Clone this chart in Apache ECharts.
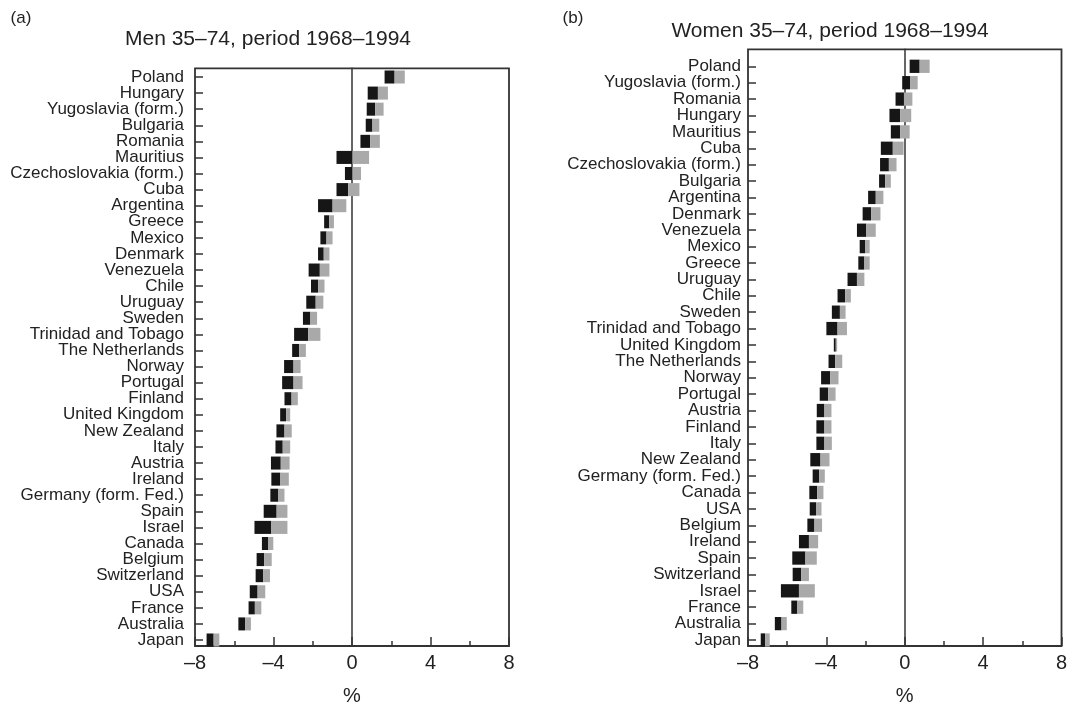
<!DOCTYPE html>
<html>
<head>
<meta charset="utf-8">
<script src="https://cdn.jsdelivr.net/npm/echarts@6/dist/echarts.min.js"></script>
<style>
html,body{margin:0;padding:0;background:#fff;}
#chart{width:1075px;height:711px;}
</style>
</head>
<body>
<div id="chart"></div>
<script>
// ---- Data (annual % change, 95% interval: lower, estimate, upper) ----
const menCountries = ['Poland','Hungary','Yugoslavia (form.)','Bulgaria','Romania','Mauritius','Czechoslovakia (form.)','Cuba','Argentina','Greece','Mexico','Denmark','Venezuela','Chile','Uruguay','Sweden','Trinidad and Tobago','The Netherlands','Norway','Portugal','Finland','United Kingdom','New Zealand','Italy','Austria','Ireland','Germany (form. Fed.)','Spain','Israel','Canada','Belgium','Switzerland','USA','France','Australia','Japan'];
const menLower    = [1.66,0.80,0.75,0.70,0.43,-0.79,-0.36,-0.79,-1.73,-1.42,-1.61,-1.73,-2.21,-2.09,-2.33,-2.50,-2.95,-3.05,-3.46,-3.56,-3.44,-3.66,-3.85,-3.90,-4.13,-4.11,-4.16,-4.50,-4.97,-4.59,-4.86,-4.91,-5.21,-5.27,-5.79,-7.41];
const menEstimate = [2.17,1.32,1.18,1.04,0.92,0.02,0.02,-0.19,-0.99,-1.16,-1.30,-1.44,-1.64,-1.73,-1.85,-2.12,-2.23,-2.69,-2.98,-2.98,-3.08,-3.36,-3.44,-3.53,-3.63,-3.65,-3.77,-3.84,-4.11,-4.28,-4.47,-4.52,-4.81,-4.95,-5.45,-7.05];
const menUpper    = [2.69,1.83,1.61,1.39,1.42,0.87,0.46,0.38,-0.29,-0.92,-0.99,-1.15,-1.15,-1.40,-1.46,-1.78,-1.61,-2.35,-2.62,-2.52,-2.76,-3.15,-3.07,-3.15,-3.18,-3.22,-3.44,-3.29,-3.29,-4.01,-4.09,-4.18,-4.42,-4.62,-5.15,-6.76];

const womenCountries = ['Poland','Yugoslavia (form.)','Romania','Hungary','Mauritius','Cuba','Czechoslovakia (form.)','Bulgaria','Argentina','Denmark','Venezuela','Mexico','Greece','Uruguay','Chile','Sweden','Trinidad and Tobago','United Kingdom','The Netherlands','Norway','Portugal','Austria','Finland','Italy','New Zealand','Germany (form. Fed.)','Canada','USA','Belgium','Ireland','Spain','Switzerland','Israel','France','Australia','Japan'];
const womenLower    = [0.25,-0.13,-0.47,-0.78,-0.71,-1.22,-1.26,-1.31,-1.87,-2.15,-2.44,-2.30,-2.37,-2.92,-3.43,-3.72,-4.00,-3.62,-3.89,-4.27,-4.34,-4.49,-4.51,-4.51,-4.82,-4.70,-4.87,-4.85,-4.97,-5.40,-5.74,-5.72,-6.32,-5.79,-6.63,-7.35];
const womenEstimate = [0.76,0.27,-0.04,-0.23,-0.23,-0.61,-0.81,-1.00,-1.48,-1.72,-1.96,-2.01,-2.06,-2.44,-3.04,-3.31,-3.43,-3.52,-3.55,-3.81,-3.91,-4.10,-4.10,-4.10,-4.30,-4.37,-4.47,-4.53,-4.61,-4.89,-5.07,-5.28,-5.40,-5.48,-6.29,-7.13];
const womenUpper    = [1.27,0.66,0.39,0.33,0.25,-0.06,-0.42,-0.71,-1.09,-1.24,-1.48,-1.79,-1.79,-2.06,-2.75,-3.02,-2.95,-3.45,-3.19,-3.38,-3.53,-3.74,-3.74,-3.72,-3.84,-4.08,-4.15,-4.25,-4.22,-4.42,-4.49,-4.89,-4.59,-5.18,-6.02,-6.89];

const xTicks = [-8,-4,0,4,8];
const panelTitles = ['Men 35\u201374, period 1968\u20131994','Women 35\u201374, period 1968\u20131994'];
const panelTags = ['(a)','(b)'];
const axisName = '%';

// ---- Styling / layout ----
const FONT = '"Liberation Sans", Arial, Helvetica, sans-serif';
const TXT = '#222';
const LINE = '#333';
const BLACK = '#161616';
const GREY = '#a9a9a9';

// frame box and first/last row centre for each panel
const panels = [
  {left:195, width:314, frameTop:68.3, frameBottom:656.7, firstRow:77.0, lastRow:640.0, labelMargin:11},
  {left:748, width:313.5, frameTop:49.3, frameBottom:656.7, firstRow:66.3, lastRow:640.0, labelMargin:7}
];

function rows(lower, est, upper){
  return lower.map((l,i)=>[i, l, est[i], upper[i]]);
}

function renderItem(params, api){
  const idx = api.value(0);
  const pLo = api.coord([api.value(1), idx]);
  const pMid = api.coord([api.value(2), idx]);
  const pHi = api.coord([api.value(3), idx]);
  const h = api.size([0,1])[1] * 0.81;
  return {
    type: 'group',
    children: [
      {type:'rect', shape:{x:pLo[0], y:pLo[1]-h/2, width:pMid[0]-pLo[0], height:h}, style:{fill:BLACK}},
      {type:'rect', shape:{x:pMid[0], y:pMid[1]-h/2, width:pHi[0]-pMid[0], height:h}, style:{fill:GREY}}
    ]
  };
}

const grids = [], xAxes = [], yAxes = [], seriesList = [];
const names = [menCountries, womenCountries];
const dataSets = [rows(menLower, menEstimate, menUpper), rows(womenLower, womenEstimate, womenUpper)];

panels.forEach((p, k) => {
  // frame grid (x axis ticks/labels, border, zero line)
  const fg = grids.length;
  grids.push({left:p.left, top:p.frameTop, width:p.width, height:p.frameBottom-p.frameTop,
    show:true, borderColor:LINE, borderWidth:1.8, backgroundColor:'transparent'});
  xAxes.push({
    type:'value', gridIndex: fg, min:-8, max:8, interval:4, position:'bottom',
    axisLine:{show:false, onZero:false},
    axisTick:{show:true, inside:true, length:9, lineStyle:{color:LINE, width:1.5}},
    minorTick:{show:true, splitNumber:2, length:5, lineStyle:{color:LINE, width:1.5}},
    splitLine:{show:false},
    axisLabel:{color:TXT, fontFamily:FONT, fontSize:20, margin:7, showMinLabel:true, showMaxLabel:true,
      formatter: v => (v < 0 ? '\u2013' + Math.abs(v) : String(v))},
    name: axisName, nameLocation:'middle', nameGap:40,
    nameTextStyle:{color:TXT, fontFamily:FONT, fontSize:20}
  });
  yAxes.push({
    type:'value', gridIndex: fg, min:0, max:1,
    axisLine:{show:true, onZero:true, lineStyle:{color:LINE, width:1.5}},
    axisTick:{show:false}, axisLabel:{show:false}, splitLine:{show:false}
  });
  // data grid (category rows + bars)
  const dg = grids.length;
  grids.push({left:p.left, top:p.firstRow, width:p.width, height:p.lastRow-p.firstRow, show:false});
  xAxes.push({type:'value', gridIndex: dg, min:-8, max:8, show:false, axisLine:{onZero:false}});
  yAxes.push({
    type:'category', gridIndex: dg, data: names[k], inverse:true, boundaryGap:false, position:'left',
    axisLine:{show:false, onZero:false},
    axisTick:{show:true, inside:true, length:8, interval:0, lineStyle:{color:LINE, width:1.5}},
    axisLabel:{color:TXT, fontFamily:FONT, fontSize:17, margin:p.labelMargin, interval:0},
    splitLine:{show:false}
  });
  seriesList.push({
    type:'custom', xAxisIndex: dg, yAxisIndex: dg,
    renderItem: renderItem,
    encode:{x:[1,2,3], y:0},
    data: dataSets[k],
    silent:true,
    z:3
  });
});

const option = {
  backgroundColor:'#fff',
  animation:false,
  title:[
    {text: panelTags[0], left: 21, top: 18, textAlign:'center', textVerticalAlign:'middle', padding:0,
     textStyle:{color:TXT, fontFamily:FONT, fontSize:17, fontWeight:'normal', lineHeight:17}},
    {text: panelTitles[0], left: 268, top: 39, textAlign:'center', textVerticalAlign:'middle', padding:0,
     textStyle:{color:TXT, fontFamily:FONT, fontSize:21, fontWeight:'normal', lineHeight:21}},
    {text: panelTags[1], left: 573, top: 18, textAlign:'center', textVerticalAlign:'middle', padding:0,
     textStyle:{color:TXT, fontFamily:FONT, fontSize:17, fontWeight:'normal', lineHeight:17}},
    {text: panelTitles[1], left: 830, top: 31.5, textAlign:'center', textVerticalAlign:'middle', padding:0,
     textStyle:{color:TXT, fontFamily:FONT, fontSize:21, fontWeight:'normal', lineHeight:21}}
  ],
  grid: grids,
  xAxis: xAxes,
  yAxis: yAxes,
  series: seriesList
};

const chart = echarts.init(document.getElementById('chart'), null, {renderer:'canvas'});
chart.setOption(option);
</script>
</body>
</html>
